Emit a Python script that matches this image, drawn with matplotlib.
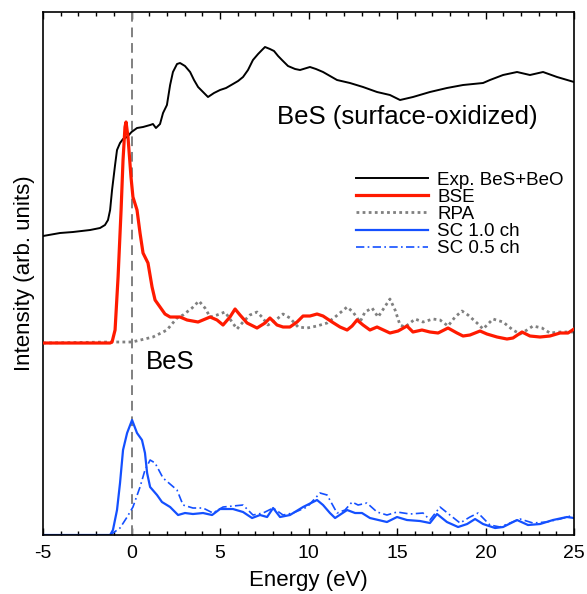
import matplotlib
matplotlib.use("Agg")
import matplotlib.pyplot as plt
from matplotlib.ticker import MultipleLocator

plt.rcParams['font.family'] = ['Liberation Sans', 'DejaVu Sans']
plt.rcParams['axes.unicode_minus'] = False

# Exp. BeS+BeO (black)
exp_e = [-5.0, -4.04, -3.31, -2.34, -1.78, -1.50, -1.33, -1.21, -1.10, -0.93, -0.82, -0.65, -0.48,
         -0.25, 0.0, 0.31, 0.65, 1.05, 1.21, 1.38, 1.61, 1.78, 2.0, 2.18, 2.34, 2.57, 2.74, 3.02,
         3.31, 3.53, 3.76, 4.04, 4.32, 4.66, 5.0, 5.34, 5.73, 6.02, 6.30, 6.58, 6.86, 7.15, 7.37,
         7.54, 7.82, 8.05, 8.28, 8.50, 8.84, 9.24, 9.52, 10.08, 10.42, 10.82, 11.61, 12.34, 13.08,
         13.87, 14.60, 15.17, 15.90, 16.86, 17.82, 18.73, 19.86, 20.25, 20.99, 21.78, 22.51, 23.25,
         24.04, 25.0]
exp_i = [29.9, 30.2, 30.3, 30.5, 30.7, 31.0, 31.5, 32.5, 34.5, 37.0, 38.5, 39.2, 39.6,
         39.8, 40.3, 40.7, 40.8, 41.0, 41.1, 40.7, 41.1, 42.2, 43.0, 45.0, 46.3, 47.1, 47.2, 46.9,
         46.3, 45.5, 44.8, 44.3, 43.8, 44.2, 44.5, 44.7, 45.1, 45.4, 45.8, 46.5, 47.5, 48.1, 48.5,
         48.8, 48.6, 48.4, 47.9, 47.5, 46.9, 46.6, 46.5, 46.8, 46.6, 46.3, 45.5, 45.2, 44.8,
         44.3, 44.0, 43.5, 43.8, 44.3, 44.7, 45.0, 45.2, 45.5, 46.0, 46.3, 46.0, 46.3,
         45.8, 45.3]

# BSE (red)
bse_e = [-5.0, -1.21, -1.10, -0.93, -0.76, -0.59, -0.48, -0.37, -0.31, -0.20, -0.03, 0.08, 0.31,
         0.48, 0.65, 0.93, 1.16, 1.33, 1.61, 1.89, 2.18, 2.74, 3.14, 3.76, 4.44, 4.83, 5.17, 5.56,
         5.85, 6.13, 6.53, 7.09, 7.54, 7.82, 8.22, 8.56, 8.95, 9.35, 9.69, 10.08, 10.48, 10.82,
         11.33, 11.78, 12.18, 12.46, 12.74, 13.08, 13.47, 13.87, 14.60, 15.06, 15.56, 15.90, 16.41,
         16.86, 17.32, 17.88, 18.39, 18.73, 19.12, 19.69, 20.08, 20.65, 21.21, 21.55, 22.06, 22.51,
         23.08, 23.64, 24.21, 24.66, 25.0]
bse_i = [19.2, 19.2, 19.3, 20.5, 25.8, 32.5, 37.5, 40.8, 41.3, 39.8, 35.8, 33.8, 32.5,
         30.2, 28.2, 27.2, 24.8, 23.5, 22.8, 22.1, 21.8, 21.8, 21.5, 21.3, 21.8, 21.5, 21.0, 21.8,
         22.6, 22.0, 21.2, 20.7, 21.2, 21.7, 21.0, 20.8, 20.8, 21.3, 21.9, 21.9, 22.1, 21.9,
         21.3, 20.8, 20.5, 20.9, 21.5, 21.0, 20.5, 20.8, 20.2, 20.4, 20.9, 20.3, 20.5,
         20.3, 20.2, 20.7, 20.2, 19.9, 20.0, 20.4, 20.1, 19.8, 19.6, 19.7, 20.3, 19.9,
         19.8, 19.9, 20.2, 20.2, 20.6]

# RPA (gray dotted)
rpa_e = [-5.0, -1.21, 0.03, 1.21, 1.78, 2.0, 2.57, 2.91, 3.42, 3.81, 4.15, 4.44, 4.83, 5.28, 5.68,
         5.96, 6.30, 6.69, 7.09, 7.37, 7.71, 8.22, 8.56, 8.95, 9.41, 9.92, 10.48, 11.05, 11.50,
         12.18, 12.51, 12.91, 13.19, 13.59, 13.93, 14.60, 14.89, 15.17, 15.45, 16.02, 16.47, 17.03,
         17.43, 17.88, 18.28, 18.67, 19.01, 19.52, 19.86, 20.42, 20.99, 21.55, 21.95, 22.34, 22.68,
         23.19, 23.64, 24.21, 25.0]
rpa_i = [19.2, 19.3, 19.3, 19.8, 20.3, 20.5, 21.7, 22.0, 22.7, 23.4, 22.7, 21.8, 22.0, 22.3, 21.3,
         20.6, 21.3, 22.0, 22.3, 21.8, 21.0, 21.6, 22.1, 21.7, 20.8, 20.7, 20.9, 21.2, 21.8,
         22.8, 22.3, 21.3, 22.3, 22.7, 21.8, 23.6, 22.5, 21.0, 20.8, 21.6, 21.3, 21.6,
         21.5, 20.9, 21.8, 22.4, 22.0, 21.2, 20.6, 21.6, 21.3, 20.5, 20.1, 20.5, 20.9,
         20.7, 20.2, 20.3, 20.3]

# SC 1.0 ch (blue solid)
sc1_e = [-5.0, -1.21, -1.05, -0.82, -0.65, -0.48, -0.25, 0.03, 0.31, 0.59, 0.76, 0.88, 1.05, 1.44,
         1.72, 2.18, 2.63, 3.02, 3.47, 4.04, 4.55, 5.0, 5.73, 6.30, 6.81, 7.26, 7.66, 8.0, 8.39,
         8.95, 9.69, 10.48, 10.82, 11.21, 11.50, 12.18, 12.63, 13.02, 13.47, 14.43, 15.0, 15.56,
         16.30, 16.86, 17.26, 17.82, 18.45, 18.96, 19.41, 19.86, 20.54, 20.99, 21.78, 22.40, 23.08,
         23.81, 24.60, 25.0]
sc1_i = [0.0, 0.0, 0.5, 2.5, 5.2, 8.5, 10.2, 11.5, 10.2, 9.5, 8.2, 6.2, 4.8, 4.0,
         3.3, 2.8, 2.0, 2.2, 2.1, 2.2, 2.0, 2.6, 2.6, 2.3, 1.7, 2.0, 1.8, 2.7, 1.8,
         2.0, 2.8, 3.5, 3.0, 2.2, 1.7, 2.5, 2.2, 2.2, 1.7, 1.3, 1.8, 1.5,
         1.4, 1.2, 2.1, 1.3, 0.8, 1.1, 1.6, 1.1, 0.7, 0.8, 1.5, 1.0, 1.1,
         1.5, 1.8, 1.7]

# SC 0.5 ch (blue dash-dot)
sc05_e = [-5.0, -1.21, -0.65, -0.25, 0.08, 0.48, 0.76, 1.05, 1.33, 1.78, 2.57, 2.91, 3.47, 4.04,
          4.60, 5.17, 6.30, 6.86, 7.43, 8.0, 8.56, 9.12, 9.92, 10.65, 11.05, 11.61, 12.06, 12.46,
          12.80, 13.30, 13.87, 14.43, 15.0, 15.73, 16.47, 16.86, 17.43, 17.99, 18.56, 19.12, 19.58,
          20.25, 20.82, 21.38, 21.95, 22.68, 23.45, 24.21, 25.0]
sc05_i = [0.0, 0.0, 0.7, 1.8, 2.8, 4.8, 6.5, 7.5, 7.2, 5.7, 4.5, 3.0, 2.7, 2.7,
          2.2, 2.8, 3.0, 2.0, 2.2, 2.7, 2.0, 2.2, 2.8, 4.2, 4.0, 2.2, 2.5, 3.3,
          3.0, 3.2, 2.3, 2.0, 2.3, 2.1, 2.2, 1.5, 2.8, 2.0, 1.2, 1.8, 2.2,
          1.0, 0.8, 1.2, 1.6, 1.2, 1.3, 1.6, 2.0]

fig = plt.figure(figsize=(5.87, 5.94), dpi=100)
ax = fig.add_axes([0.0733, 0.0993, 0.9046, 0.8805])

ax.axvline(0, color='#808080', lw=1.4, ls=(0, (5, 3)))
ax.plot(exp_e, exp_i, color='black', lw=1.4, label='Exp. BeS+BeO')
ax.plot(rpa_e, rpa_i, color='#808080', lw=2.0, ls=(0, (1, 1.2)), label='RPA', zorder=2)
ax.plot(bse_e, bse_i, color='#ff1a00', lw=2.3, label='BSE', zorder=3)
ax.plot(sc1_e, sc1_i, color='#1450ff', lw=1.6, label='SC 1.0 ch')
ax.plot(sc05_e, sc05_i, color='#1450ff', lw=1.2, ls=(0, (5, 2, 1, 2)), label='SC 0.5 ch')

ax.set_xlim(-5, 25)
ax.set_ylim(0, 52.3)
ax.xaxis.set_major_locator(MultipleLocator(5))
ax.xaxis.set_minor_locator(MultipleLocator(1))
ax.tick_params(axis='x', which='both', direction='in', top=True, labelsize=14, pad=7)
ax.tick_params(axis='x', which='major', length=5, width=1)
ax.tick_params(axis='x', which='minor', length=3, width=1)
ax.set_yticks([])
for s in ax.spines.values():
    s.set_linewidth(1.2)

ax.set_xlabel('Energy (eV)', fontsize=16, labelpad=6)
ax.set_ylabel('Intensity (arb. units)', fontsize=16, labelpad=6)

ax.text(8.22, 41.8, 'BeS (surface-oxidized)', fontsize=18.5, va='center', ha='left')
ax.text(0.82, 17.3, 'BeS', fontsize=18.5, va='center', ha='left')

handles, labels = ax.get_legend_handles_labels()
order = [0, 2, 1, 3, 4]
ax.legend([handles[i] for i in order], [labels[i] for i in order],
          loc='upper right', bbox_to_anchor=(1.005, 0.72), frameon=False, fontsize=13.5,
          handlelength=3.8, handletextpad=0.5, labelspacing=0.0, borderpad=0.2)

fig.savefig('out.png', dpi=100)
